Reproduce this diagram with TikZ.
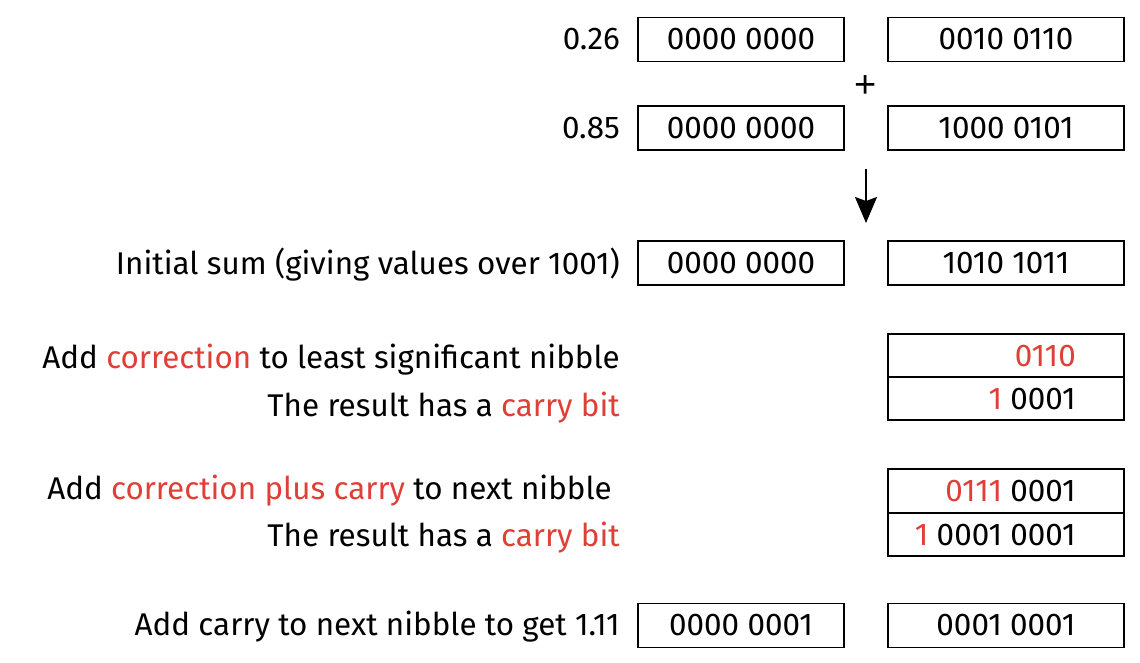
\documentclass[tikz,border=0pt]{standalone}
\usepackage{fontspec}
\setmainfont{Fira Sans}
\newfontfamily\plusfont{Liberation Sans}
\usetikzlibrary{arrows.meta}
\definecolor{hl}{RGB}{222,64,56}
\begin{document}
\begin{tikzpicture}[x=1pt,y=-1pt,
  font=\fontsize{31.4}{36}\selectfont,
  lbox/.style={draw=black,line width=1.6pt,minimum width=206pt,minimum height=44pt,inner sep=0pt},
  rbox/.style={draw=black,line width=1.6pt,minimum width=236pt,minimum height=44pt,inner sep=0pt},
  lab/.style={anchor=east,inner sep=0pt},
  hi/.style={text=hl}]
\useasboundingbox (0,0) rectangle (1140,662);
% row 1
\node[lab] (l1) at (620,39.5) {0.26};
\node[lbox] (a1) at (741,39.5) {0000 0000};
\node[rbox] (b1) at (1006,39.5) {0010 0110};
\node[font=\plusfont\fontsize{38}{38}\selectfont,inner sep=0pt] (plus) at (866,87) {+};
% row 2
\node[lab] (l2) at (620,128) {0.85};
\node[lbox] (a2) at (741,128) {0000 0000};
\node[rbox] (b2) at (1006,128) {1000 0101};
% arrow
\coordinate (arrs) at (866,169);
\coordinate (arre) at (866,223);
\draw[line width=2.4pt,-{Stealth[width=22pt,length=26pt,inset=4pt]}] (arrs) -- (arre);
% row 3
\node[lab] (l3) at (620,264.5) {Initial sum (giving values over 1001)};
\node[lbox] (a3) at (741,263) {0000 0000};
\node[rbox] (b3) at (1006,263) {1010 1011};
% stacked 1
\node[lab] (l4) at (620,360) {Add \textcolor{hl}{correction} to least significant nibble};
\node[lab] (l5) at (620,408) {The result has a \textcolor{hl}{carry bit}};
\node[rbox,minimum height=43pt] (c1) at (1006,355.5) {};
\node[rbox,minimum height=43pt] (c2) at (1006,398.5) {};
\node[lab] (t1) at (1076,356.5) {\textcolor{hl}{0110}};
\node[lab] (t2) at (1076,399.5) {\textcolor{hl}{1} 0001};
% stacked 2
\node[lab] (l6) at (612,491) {Add \textcolor{hl}{correction plus carry} to next nibble};
\node[lab] (l7) at (620,538) {The result has a \textcolor{hl}{carry bit}};
\node[rbox,minimum height=44pt] (d1) at (1006,491) {};
\node[rbox,minimum height=43pt] (d2) at (1006,534.5) {};
\node[lab] (t3) at (1076,491.5) {\textcolor{hl}{0111} 0001};
\node[lab] (t4) at (1076,535) {\textcolor{hl}{1} 0001 0001};
% last row
\node[lab] (l8) at (620,627) {Add carry to next nibble to get 1.11};
\node[lbox] (a4) at (741,625.5) {0000 0001};
\node[rbox] (b4) at (1006,625.5) {0001 0001};
\end{tikzpicture}
\end{document}
